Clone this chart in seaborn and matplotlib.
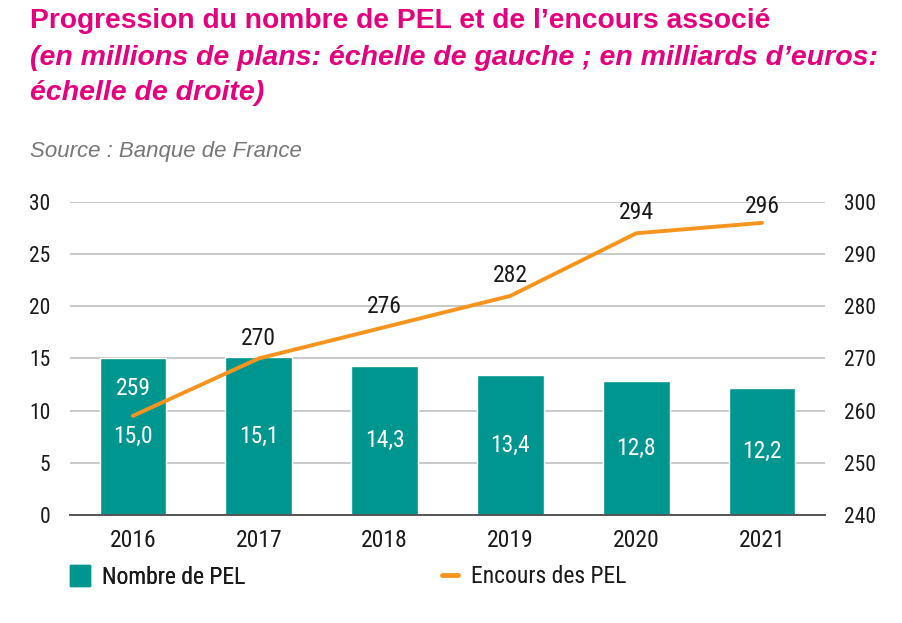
import matplotlib
matplotlib.use("Agg")
import matplotlib.pyplot as plt
import seaborn as sns
import pandas as pd
from matplotlib.patches import Patch
from matplotlib.lines import Line2D

years = ["2016", "2017", "2018", "2019", "2020", "2021"]
nombre_pel = [15.0, 15.1, 14.3, 13.4, 12.8, 12.2]
encours_pel = [259, 270, 276, 282, 294, 296]
left_ticks = [0, 5, 10, 15, 20, 25, 30]
right_ticks = [240, 250, 260, 270, 280, 290, 300]

sns.set_theme(style="white")
cond = ["Roboto Condensed", "DejaVu Sans Condensed", "Liberation Sans Narrow",
        "Liberation Sans", "DejaVu Sans"]
plt.rcParams["font.family"] = cond

df = pd.DataFrame({"annee": years, "nombre": nombre_pel, "encours": encours_pel})

fig = plt.figure(figsize=(9.02, 6.23), dpi=100)
ax = fig.add_axes([0.0776, 0.1734, 0.837, 0.5024])

teal = "#009690"
orange = "#F7941D"
dark = "#1a1a1a"

ax.set_ylim(0, 30)
ax.set_yticks(left_ticks)
ax.yaxis.grid(True, color="#c9c9c9", linewidth=1.4)
ax.set_axisbelow(True)
sns.barplot(data=df, x="annee", y="nombre", color=teal, width=0.53,
            saturation=1, ax=ax, zorder=2)
ax.set_xlim(-0.5, 5.5)
for s in ["top", "right", "left"]:
    ax.spines[s].set_visible(False)
ax.spines["bottom"].set_color("#555555")
ax.spines["bottom"].set_linewidth(1.4)
ax.set_xlabel("")
ax.set_ylabel("")
ax.tick_params(axis="both", length=0, colors=dark)
ax.tick_params(axis="y", pad=14, labelsize=15.5)
ax.tick_params(axis="x", pad=10, labelsize=17)

for i, v in enumerate(nombre_pel):
    ax.text(i, v / 2, f"{v:.1f}".replace(".", ","), ha="center", va="center",
            color="white", fontsize=17, zorder=4)

ax2 = ax.twinx()
ax2.set_ylim(240, 300)
ax2.set_yticks(right_ticks)
sns.lineplot(x=list(range(len(years))), y=encours_pel, color=orange,
             linewidth=2.8, ax=ax2, zorder=3)
ax2.set_xlim(-0.5, 5.5)
for s in ["top", "right", "left", "bottom"]:
    ax2.spines[s].set_visible(False)
ax2.tick_params(axis="y", length=0, labelsize=15.5, colors=dark, pad=14)
ax2.set_ylabel("")

for i, v in enumerate(encours_pel):
    if i == 0:
        ax2.text(i, v + 5.3, str(v), ha="center", va="center", color="white",
                 fontsize=17, zorder=5)
    elif i == len(encours_pel) - 1:
        ax2.text(i, v + 3.1, str(v), ha="center", va="center", color=dark,
                 fontsize=17, zorder=5)
    else:
        ax2.text(i, v + 3.9, str(v), ha="center", va="center", color=dark,
                 fontsize=17, zorder=5)

title_color = "#E5007D"
tfam = ["Liberation Sans", "DejaVu Sans"]
fig.text(0.033, 0.966, "Progression du nombre de PEL et de l\u2019encours associé",
         family=tfam, fontweight="bold",
         fontsize=20.3, color=title_color, va="center", ha="left")
fig.text(0.033, 0.907, "(en millions de plans: échelle de gauche ; en milliards d\u2019euros:",
         family=tfam, fontweight="bold", style="italic",
         fontsize=20.5, color=title_color, va="center", ha="left")
fig.text(0.033, 0.850, "échelle de droite)",
         family=tfam, fontweight="bold", style="italic",
         fontsize=20.5, color=title_color, va="center", ha="left")
fig.text(0.033, 0.757, "Source : Banque de France",
         family=tfam, style="italic",
         fontsize=16, color="#777777", va="center", ha="left")

leg1 = fig.legend([Patch(facecolor=teal, edgecolor=teal)], ["Nombre de PEL"],
                  loc="center left", bbox_to_anchor=(0.054, 0.074),
                  frameon=False, fontsize=17, handlelength=0.85, handleheight=1.0,
                  handletextpad=0.5, labelcolor=dark)
fig.add_artist(leg1)
leg2 = fig.legend([Line2D([0], [0], color=orange, linewidth=3.5)], ["Encours des PEL"],
                  loc="center left", bbox_to_anchor=(0.466, 0.074),
                  frameon=False, fontsize=17, handlelength=0.7,
                  handletextpad=0.55, labelcolor=dark)

fig.savefig("out.png", dpi=100, facecolor="white")
